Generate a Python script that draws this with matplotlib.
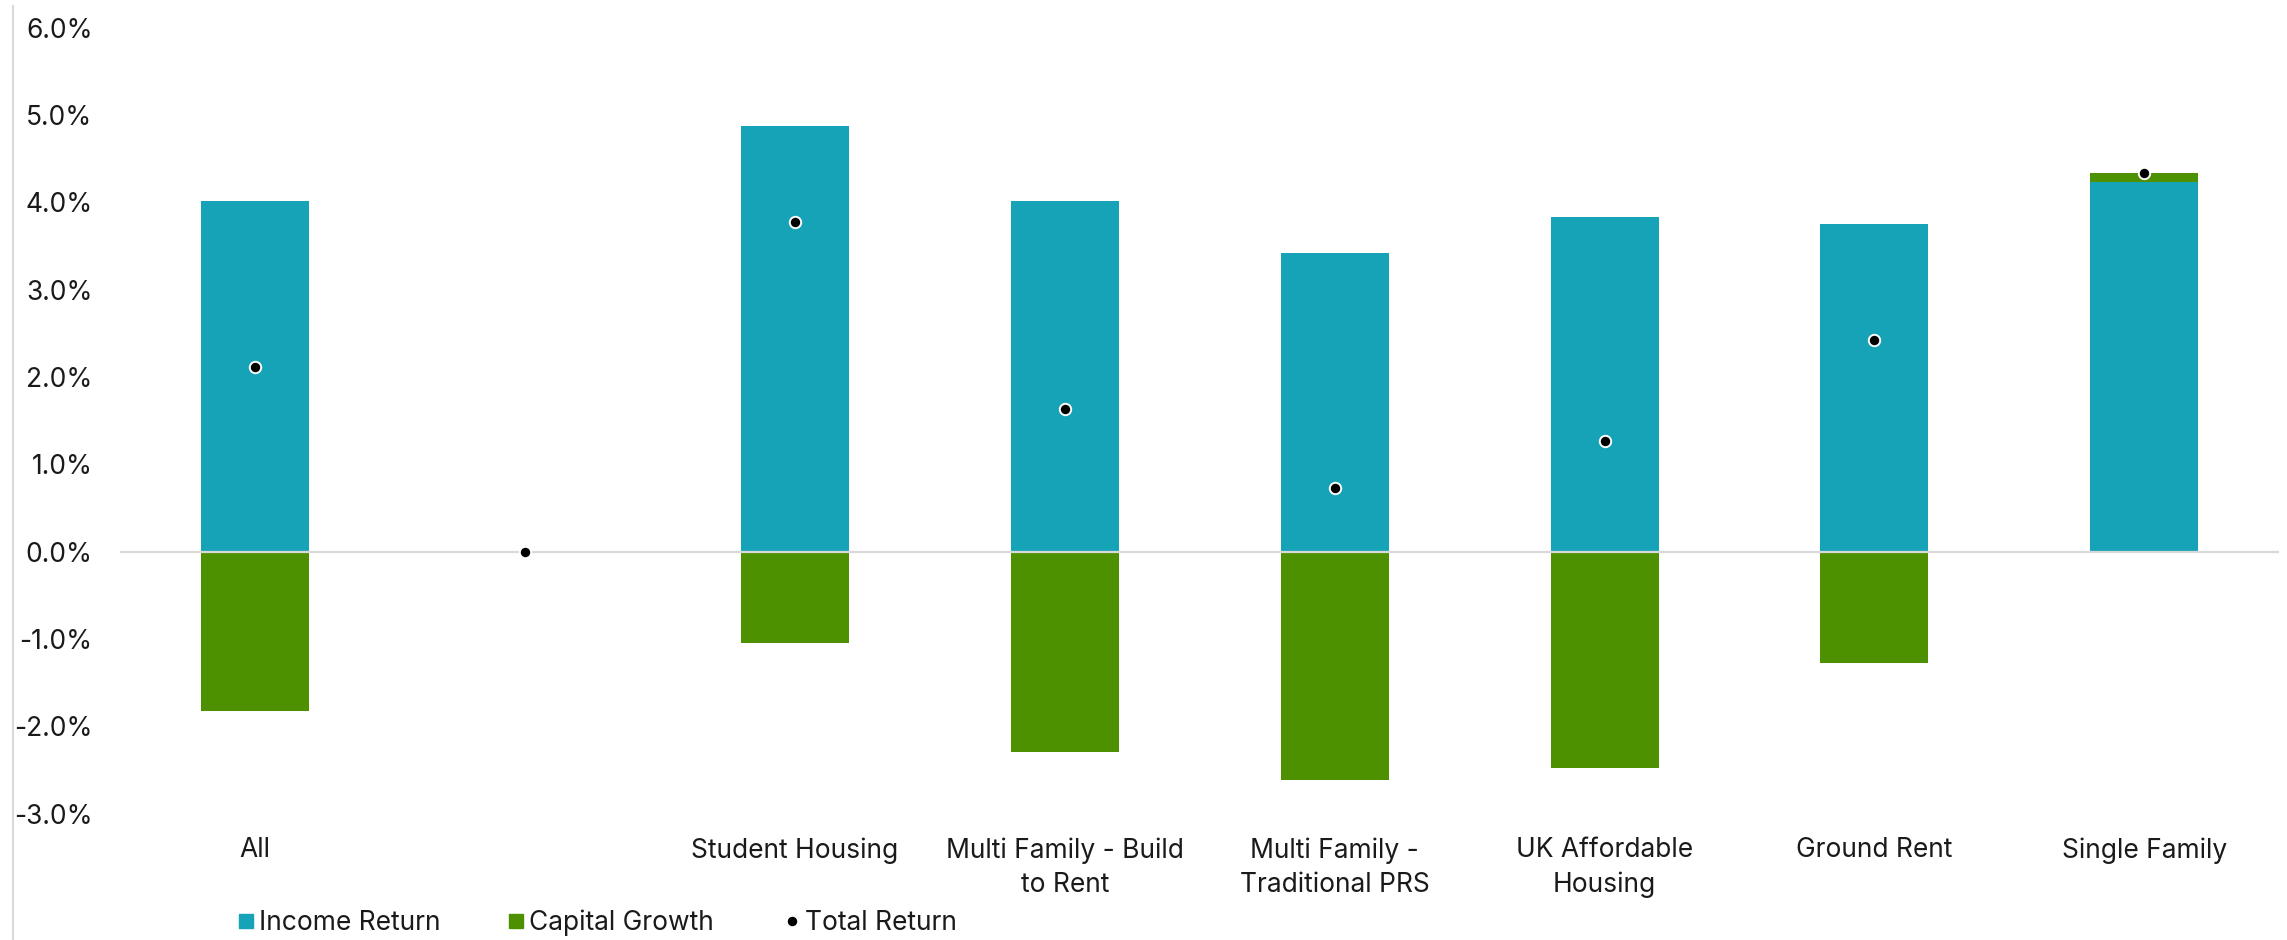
import matplotlib
matplotlib.use("Agg")
import matplotlib.pyplot as plt
from matplotlib.lines import Line2D
from matplotlib.ticker import FuncFormatter
import numpy as np

plt.rcParams['font.family'] = ['Inter', 'DejaVu Sans']

categories = ["All", "", "Student Housing", "Multi Family - Build\nto Rent",
              "Multi Family -\nTraditional PRS", "UK Affordable\nHousing",
              "Ground Rent", "Single Family"]
income_return = [4.01, 0.0, 4.87, 4.01, 3.42, 3.83, 3.75, 4.23]
capital_growth = [-1.83, 0.0, -1.05, -2.30, -2.62, -2.48, -1.28, 0.11]
total_return = [2.11, 0.0, 3.78, 1.63, 0.73, 1.27, 2.42, 4.34]
y_ticks = [-3, -2, -1, 0, 1, 2, 3, 4, 5, 6]
series_names = ["Income Return", "Capital Growth", "Total Return"]

TEAL = "#17a3b7"
GREEN = "#4e9100"
W, H = 2287, 940
FS = 19

fig = plt.figure(figsize=(W / 100, H / 100), dpi=100)
ax = fig.add_axes([0.0526, 0.1345, 0.944, 0.836])

x = np.arange(len(categories))
inc = np.array(income_return)
cap = np.array(capital_growth)
# positive growth stacks on top of income, negative growth hangs below zero
cap_bottom = np.where(cap > 0, inc, 0.0)

ax.bar(x, inc, width=0.4, color=TEAL, zorder=2)
ax.bar(x, cap, width=0.4, bottom=cap_bottom, color=GREEN, zorder=2)
ax.axhline(0, color="#d9d9d9", lw=1.6, zorder=3)
ax.plot(x, total_return, linestyle="none", marker="o", ms=8.2, mfc="black",
        mec="white", mew=1.4, zorder=4)

ax.set_xlim(-0.5, len(categories) - 0.5)
ax.set_ylim(-3, 6)
ax.set_yticks(y_ticks)
ax.yaxis.set_major_formatter(FuncFormatter(lambda v, p: f"{v:.1f}%"))
ax.set_xticks(x)
ax.set_xticklabels(categories, linespacing=1.42)
ax.tick_params(axis="both", length=0, labelsize=FS, colors="#1a1a1a")
ax.tick_params(axis="y", pad=20)
ax.tick_params(axis="x", pad=17)
for s in ax.spines.values():
    s.set_visible(False)

# thin rule down the left edge of the figure
fig.add_artist(Line2D([13 / W, 13 / W], [0, 1 - 6 / H],
                      transform=fig.transFigure, color="#d9d9d9", lw=1.5))

# legend entries placed one by one along the bottom
handles = [
    Line2D([], [], linestyle="none", marker="s", ms=9.5, color=TEAL),
    Line2D([], [], linestyle="none", marker="s", ms=9.5, color=GREEN),
    Line2D([], [], linestyle="none", marker="o", ms=5.8, color="black"),
]
legend_x = [239, 509, 785]
for h, name, lx in zip(handles, series_names, legend_x):
    fig.legend([h], [name], loc="center left",
               bbox_to_anchor=(lx / W, 1 - 923 / H), frameon=False,
               fontsize=FS, handlelength=0.5, handletextpad=0.27,
               borderpad=0, borderaxespad=0, labelcolor="#1a1a1a")

fig.savefig("out.png", dpi=100, facecolor="white")
